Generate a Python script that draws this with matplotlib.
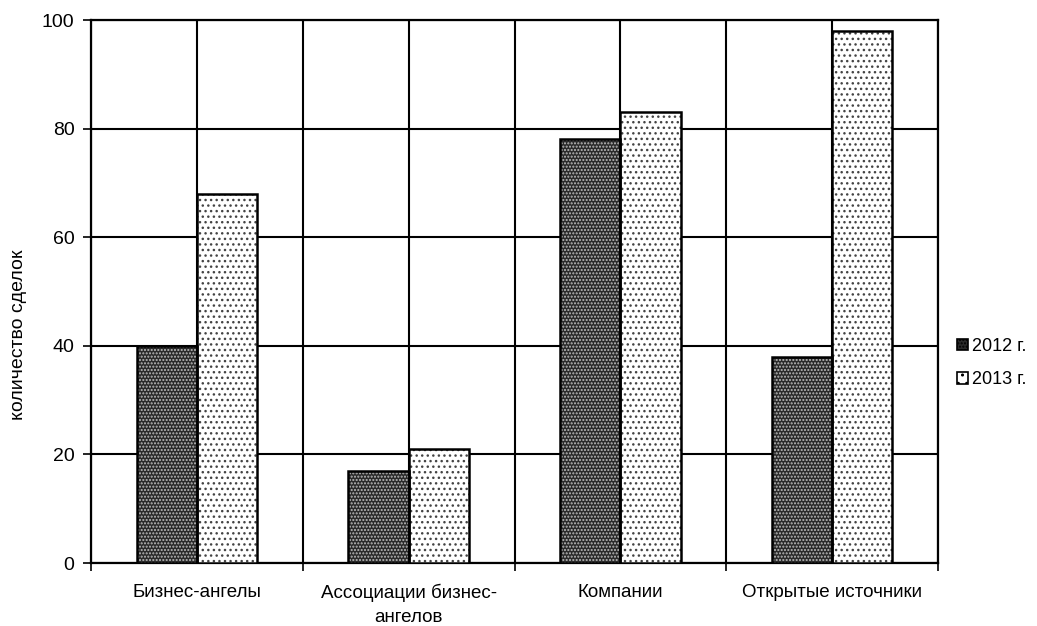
import numpy as np
import matplotlib
matplotlib.use('Agg')
import matplotlib.pyplot as plt
from matplotlib.patches import Patch

plt.rcParams['font.family'] = ['Liberation Sans', 'DejaVu Sans']
plt.rcParams['hatch.linewidth'] = 1.0

categories = ['Бизнес-ангелы', 'Ассоциации бизнес-\nангелов', 'Компании', 'Открытые источники']
v2012 = [40, 17, 78, 38]
v2013 = [68, 21, 83, 98]
series_labels = ['2012 г.', '2013 г.']
yticks = [0, 20, 40, 60, 80, 100]

fig = plt.figure(figsize=(10.37, 6.26), dpi=100)
ax = fig.add_axes([0.0878, 0.1006, 0.8167, 0.8674])

x = np.arange(len(categories))
w = 0.285

# 2012: dark stipple
ax.bar(x - w/2, v2012, w, facecolor='#2a2a2a', edgecolor='#bdbdbd', hatch='.....', linewidth=0, zorder=3)
ax.bar(x - w/2, v2012, w, fill=False, edgecolor='black', linewidth=1.8, zorder=4)
# 2013: light stipple
ax.bar(x + w/2, v2013, w, facecolor='white', edgecolor='#444444', hatch='...', linewidth=0, zorder=3)
ax.bar(x + w/2, v2013, w, fill=False, edgecolor='black', linewidth=1.8, zorder=4)

ax.set_xlim(-0.5, 3.5)
ax.set_ylim(0, 100)
ax.set_yticks(yticks)
ax.set_xticks(x)
ax.set_xticklabels(categories, fontsize=13.5, linespacing=1.55, va='top')
ax.set_xticks(np.arange(-0.5, 4, 1), minor=True)
ax.tick_params(axis='x', which='major', length=0, pad=15)
ax.tick_params(axis='x', which='minor', length=6, width=1.2)
ax.tick_params(axis='y', length=6, width=1.2, labelsize=14, pad=6)

ax.grid(True, axis='y', color='black', linewidth=1.5, zorder=1)
ax.grid(True, axis='x', which='both', color='black', linewidth=1.5, zorder=1)
ax.set_axisbelow(True)
for s in ax.spines.values():
    s.set_linewidth(1.6)

fig.text(0.018, 0.465, 'количество сделок', rotation=90, ha='center', va='center', fontsize=14)

handles = [Patch(facecolor='#2a2a2a', edgecolor='black', hatch='.....', linewidth=1.2),
           Patch(facecolor='white', edgecolor='black', hatch='..', linewidth=1.2)]
fig.legend(handles, series_labels, loc='center left', bbox_to_anchor=(0.923, 0.42),
           frameon=False, fontsize=13, handlelength=0.6, handleheight=0.6,
           handletextpad=0.25, labelspacing=0.9, borderpad=0, borderaxespad=0)

fig.savefig('out.png', dpi=100)
